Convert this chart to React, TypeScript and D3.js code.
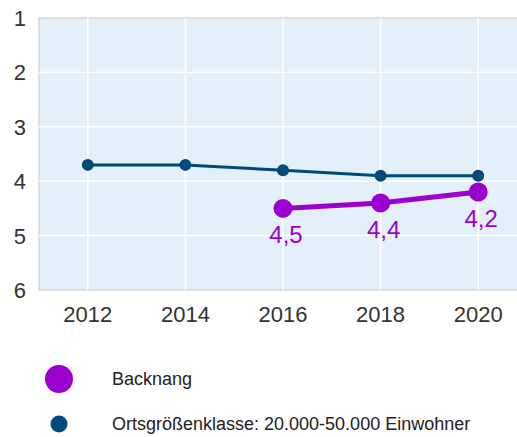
import React from "react";
import * as d3 from "d3";

const years = [2012, 2014, 2016, 2018, 2020];
const ortsValues = [3.7, 3.7, 3.8, 3.9, 3.9];
const backnangYears = [2016, 2018, 2020];
const backnangValues = [4.5, 4.4, 4.2];
const backnangLabels = ["4,5", "4,4", "4,2"];
const yTicks = [1, 2, 3, 4, 5, 6];
const legendNames = ["Backnang", "Ortsgrößenklasse: 20.000-50.000 Einwohner"];

const W = 517, H = 437;
const PURPLE = "#9a00d0";
const BLUE = "#004a7a";

export default function App() {
  const x = d3.scaleLinear().domain([2011, 2021]).range([39, 527]);
  const y = d3.scaleLinear().domain([1, 6]).range([18, 290]);
  const line = d3.line<[number, number]>().x(d => x(d[0])).y(d => y(d[1]));
  const ortsPts: [number, number][] = years.map((yr, i) => [yr, ortsValues[i]]);
  const backPts: [number, number][] = backnangYears.map((yr, i) => [yr, backnangValues[i]]);
  const font = "Liberation Sans, Arial, sans-serif";
  return (
    <svg width={W} height={H} style={{ position: "absolute", left: 0, top: 0 }} fontFamily={font}>
      <rect x={x(2011)} y={y(1)} width={x(2021) - x(2011)} height={y(6) - y(1)} fill="#e4f0f9" stroke="#d4d8dc" strokeWidth={1.5} />
      {yTicks.slice(1, -1).map(t => (
        <line key={t} x1={x(2011)} x2={W} y1={y(t)} y2={y(t)} stroke="#ffffff" strokeWidth={1.5} />
      ))}
      {years.map(t => (
        <line key={t} x1={x(t)} x2={x(t)} y1={y(1)} y2={y(6)} stroke="#ffffff" strokeWidth={1.5} />
      ))}
      {yTicks.map(t => (
        <text key={t} x={26} y={y(t)} dy="0.36em" textAnchor="end" fontSize={22} fill="#333">{t}</text>
      ))}
      {years.map(t => (
        <text key={t} x={x(t)} y={322} textAnchor="middle" fontSize={22} fill="#333">{t}</text>
      ))}
      <path d={line(ortsPts) || ""} fill="none" stroke={BLUE} strokeWidth={3} />
      {ortsPts.map((p, i) => (
        <circle key={i} cx={x(p[0])} cy={y(p[1])} r={6} fill={BLUE} />
      ))}
      <path d={line(backPts) || ""} fill="none" stroke={PURPLE} strokeWidth={5} />
      {backPts.map((p, i) => (
        <circle key={i} cx={x(p[0])} cy={y(p[1])} r={9.5} fill={PURPLE} />
      ))}
      {backPts.map((p, i) => (
        <text key={i} x={x(p[0]) + 3} y={y(p[1]) + 26} dy="0.36em" textAnchor="middle" fontSize={24} fill={PURPLE}>{backnangLabels[i]}</text>
      ))}
      <circle cx={59} cy={379} r={14} fill={PURPLE} />
      <text x={112} y={379} dy="0.36em" fontSize={18} fill="#222">{legendNames[0]}</text>
      <circle cx={59} cy={424} r={8.5} fill={BLUE} />
      <text x={112} y={424} dy="0.36em" fontSize={18} fill="#222">{legendNames[1]}</text>
    </svg>
  );
}
